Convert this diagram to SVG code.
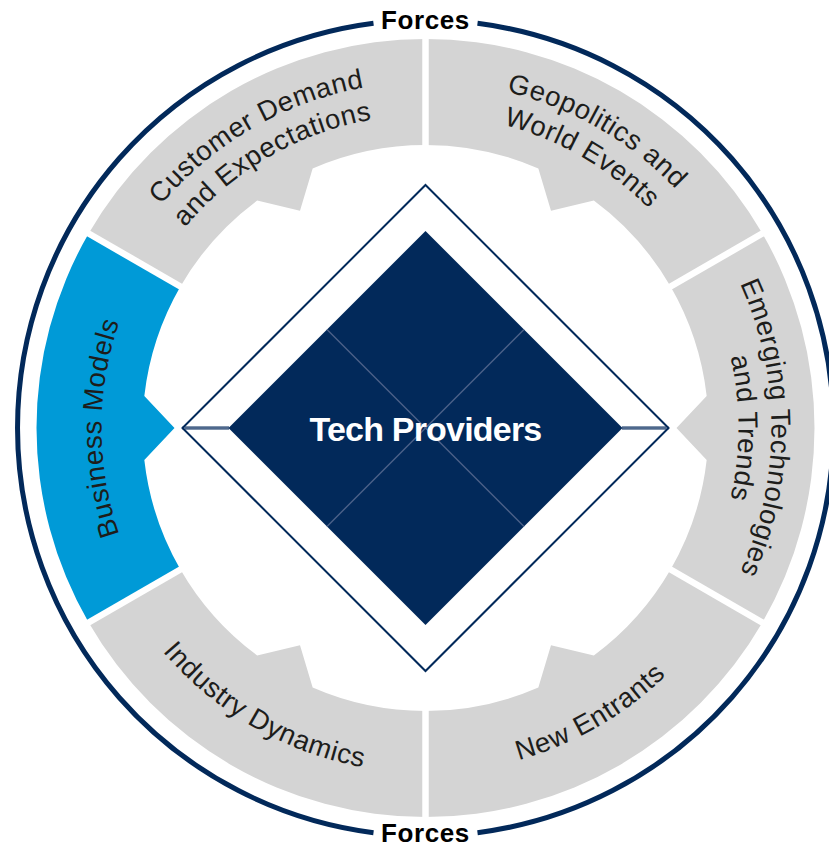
<svg xmlns="http://www.w3.org/2000/svg" width="829" height="848" viewBox="0 0 829 848">
  <style>
    .seg { fill: #d4d4d4; }
    .seg-hi { fill: #009ad7; }
    .divider { stroke: #ffffff; stroke-width: 6.5; }
    .ring { fill: none; stroke: #02295a; stroke-width: 5; }
    .forces { font-family: "Liberation Sans", Arial, sans-serif; font-weight: 700; font-size: 26px; fill: #000000; text-anchor: middle; letter-spacing: 0.6px; }
    .label { font-family: "Liberation Sans", Arial, sans-serif; font-size: 27.5px; fill: #1d1d1b; letter-spacing: 0.6px; }
    .core { fill: #02295a; }
    .core-line { stroke: #4c6189; stroke-width: 1.4; }
    .frame { fill: none; stroke: #02295a; stroke-width: 2; }
    .title { font-family: "Liberation Sans", Arial, sans-serif; font-weight: 700; font-size: 34px; fill: #ffffff; text-anchor: middle; letter-spacing: -0.8px; }
  </style>
  <defs>
    <!-- arcs centred on the top of the ring, text reads clockwise -->
    <path id="arcTop346" d="M 84.76 367.92 A 346 346 0 0 1 766.24 367.92"/>
    <path id="arcTop313" d="M 117.25 373.65 A 313 313 0 0 1 733.75 373.65"/>
    <path id="arcTop324" d="M 106.42 371.74 A 324 324 0 0 1 744.58 371.74"/>
    <!-- arc centred on the bottom of the ring, text reads left to right -->
    <path id="arcBot345" d="M 85.74 487.91 A 345 345 0 0 0 765.26 487.91"/>
  </defs>

  <!-- outer ring, broken for the two captions -->
  <g id="outer-ring">
    <path class="ring" d="M 477.5 23.33 A 408 408 0 0 1 477.5 832.67"/>
    <path class="ring" d="M 373.5 832.67 A 408 408 0 0 1 373.5 23.33"/>
    <text class="forces" x="425.5" y="29">Forces</text>
    <text class="forces" x="425.5" y="841.5">Forces</text>
  </g>

  <!-- force segments -->
  <g id="geopolitics">
    <path class="seg" d="M 425.5 39 A 389 389 0 0 1 762.38 233.5 L 670.59 286.5 A 283 283 0 0 0 593.83 200.51 L 551 210.63 L 538.35 168.47 A 283 283 0 0 0 425.5 145 Z"/>
    <text class="label" transform="rotate(30 425.5 428)"><textPath href="#arcTop346" startOffset="50%" text-anchor="middle">Geopolitics and</textPath></text>
    <text class="label" transform="rotate(30 425.5 428)"><textPath href="#arcTop313" startOffset="50%" text-anchor="middle">World Events</textPath></text>
  </g>
  <g id="emerging-tech">
    <path class="seg" d="M 762.38 233.5 A 389 389 0 0 1 762.38 622.5 L 670.59 569.5 A 283 283 0 0 0 706.68 460.04 L 676.5 428 L 706.68 395.96 A 283 283 0 0 0 670.59 286.5 Z"/>
    <text class="label" transform="rotate(90 425.5 428)"><textPath href="#arcTop346" startOffset="50%" text-anchor="middle">Emerging Technologies</textPath></text>
    <text class="label" transform="rotate(90 425.5 428)"><textPath href="#arcTop313" startOffset="50%" text-anchor="middle">and Trends</textPath></text>
  </g>
  <g id="new-entrants">
    <path class="seg" d="M 762.38 622.5 A 389 389 0 0 1 425.5 817 L 425.5 711 A 283 283 0 0 0 538.35 687.53 L 551 645.37 L 593.83 655.49 A 283 283 0 0 0 670.59 569.5 Z"/>
    <text class="label" transform="rotate(-30 425.5 428)"><textPath href="#arcBot345" startOffset="50%" text-anchor="middle">New Entrants</textPath></text>
  </g>
  <g id="industry-dynamics">
    <path class="seg" d="M 425.5 817 A 389 389 0 0 1 88.62 622.5 L 180.41 569.5 A 283 283 0 0 0 257.17 655.49 L 300 645.37 L 312.65 687.53 A 283 283 0 0 0 425.5 711 Z"/>
    <text class="label" transform="rotate(30 425.5 428)"><textPath href="#arcBot345" startOffset="50%" text-anchor="middle">Industry Dynamics</textPath></text>
  </g>
  <g id="business-models">
    <path class="seg-hi" d="M 88.62 622.5 A 389 389 0 0 1 88.62 233.5 L 180.41 286.5 A 283 283 0 0 0 144.32 395.96 L 174.5 428 L 144.32 460.04 A 283 283 0 0 0 180.41 569.5 Z"/>
    <text class="label" transform="rotate(-90 425.5 428)"><textPath href="#arcTop324" startOffset="50%" text-anchor="middle">Business Models</textPath></text>
  </g>
  <g id="customer-demand">
    <path class="seg" d="M 88.62 233.5 A 389 389 0 0 1 425.5 39 L 425.5 145 A 283 283 0 0 0 312.65 168.47 L 300 210.63 L 257.17 200.51 A 283 283 0 0 0 180.41 286.5 Z"/>
    <text class="label" transform="rotate(-30 425.5 428)"><textPath href="#arcTop346" startOffset="50%" text-anchor="middle">Customer Demand</textPath></text>
    <text class="label" transform="rotate(-30 425.5 428)"><textPath href="#arcTop313" startOffset="50%" text-anchor="middle">and Expectations</textPath></text>
  </g>

  <!-- white gaps between segments -->
  <g id="dividers" class="divider">
    <line x1="425.5" y1="150" x2="425.5" y2="32"/>
    <line x1="666.25" y1="289" x2="768.45" y2="230"/>
    <line x1="666.25" y1="567" x2="768.45" y2="626"/>
    <line x1="425.5" y1="706" x2="425.5" y2="824"/>
    <line x1="184.75" y1="567" x2="82.55" y2="626"/>
    <line x1="184.75" y1="289" x2="82.55" y2="230"/>
  </g>

  <!-- central diamond -->
  <g id="tech-providers">
    <path class="frame" d="M 425.5 185 L 668.5 428 L 425.5 671 L 182.5 428 Z"/>
    <line x1="182.5" y1="428" x2="229" y2="428" stroke="#02295a" stroke-width="3.2"/>
    <line x1="184" y1="428" x2="229" y2="428" stroke="#9aa8bf" stroke-width="1"/>
    <line x1="622" y1="428" x2="668.5" y2="428" stroke="#02295a" stroke-width="3.2"/>
    <line x1="622" y1="428" x2="667" y2="428" stroke="#9aa8bf" stroke-width="1"/>
    <path class="core" d="M 425.5 231 L 622.5 428 L 425.5 625 L 228.5 428 Z"/>
    <line class="core-line" x1="327" y1="329.5" x2="524" y2="526.5"/>
    <line class="core-line" x1="524" y1="329.5" x2="327" y2="526.5"/>
    <text class="title" x="425.5" y="441">Tech Providers</text>
  </g>
</svg>
